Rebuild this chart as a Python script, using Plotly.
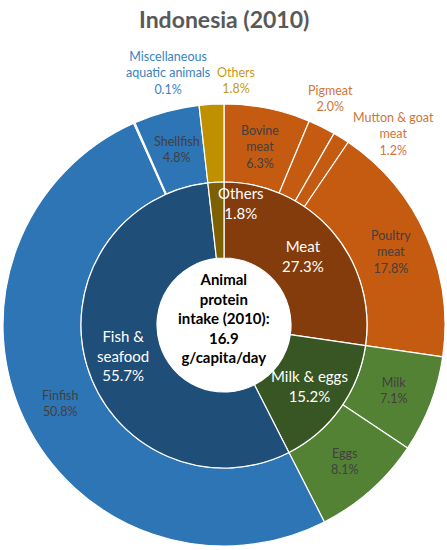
import math
import plotly.graph_objects as go

# inner ring: food groups, % of animal protein intake
groups = ["Meat", "Milk & eggs", "Fish & seafood", "Others"]
group_share = [27.3, 15.2, 55.7, 1.8]
group_text = ["Meat", "Milk & eggs", "Fish &<br>seafood", "Others"]

# outer ring: items within each group
items = ["Bovine meat", "Pigmeat", "Mutton & goat meat", "Poultry meat", "Milk",
         "Eggs", "Finfish", "Miscellaneous aquatic animals", "Shellfish", "Others"]
item_share = [6.3, 2.0, 1.2, 17.8, 7.1, 8.1, 50.8, 0.1, 4.8, 1.8]
item_text = ["Bovine<br>meat", "Pigmeat", "Mutton & goat<br>meat", "Poultry<br>meat", "Milk",
             "Eggs", "Finfish", "Miscellaneous<br>aquatic animals", "Shellfish", "Others"]

total_intake = 16.9  # g/capita/day

W, H = 447, 550
CX, CY = 224, 325          # pie centre (px)
R_OUT, R_MID, R_HOLE = 221, 143, 67

GROUP_COLORS = ["#843C0C", "#375623", "#1F4E79", "#7F6000"]
ITEM_COLORS = ["#C55A11"] * 4 + ["#548235"] * 2 + ["#2E75B6"] * 3 + ["#BF9000"]
OUT_LABEL_COLORS = {"Pigmeat": "#D0753A", "Mutton & goat meat": "#D0753A",
                    "Miscellaneous aquatic animals": "#3A82C4", "Others": "#C49A1A"}
# labels Excel pushed outside the ring (pixel positions)
OUT_LABEL_POS = {"Pigmeat": (330, 98), "Mutton & goat meat": (393, 134),
                 "Miscellaneous aquatic animals": (168, 73), "Others": (236, 81)}
FONT = "Lato, 'Open Sans', sans-serif"


def dom(cx, cy, r):
    return dict(x=[(cx - r) / W, (cx + r) / W], y=[1 - (cy + r) / H, 1 - (cy - r) / H])


def mids(shares):
    out, acc = [], 0.0
    tot = sum(shares)
    for s in shares:
        out.append((acc + s / 2) / tot)
        acc += s
    return out


def polar(frac, r):
    a = 2 * math.pi * frac
    return (CX + r * math.sin(a)) / W, 1 - (CY - r * math.cos(a)) / H


fig = go.Figure()
fig.add_trace(go.Pie(labels=items, values=item_share, sort=False, direction="clockwise",
                     rotation=0, hole=R_MID / R_OUT, domain=dom(CX, CY, R_OUT),
                     marker=dict(colors=ITEM_COLORS, line=dict(color="white", width=1.2)),
                     textinfo="none", showlegend=False))
fig.add_trace(go.Pie(labels=groups, values=group_share, sort=False, direction="clockwise",
                     rotation=0, hole=R_HOLE / R_MID, domain=dom(CX, CY, R_MID),
                     marker=dict(colors=GROUP_COLORS, line=dict(color="white", width=1.2)),
                     textinfo="none", showlegend=False))

ann = []
for name, txt, v, m in zip(items, item_text, item_share, mids(item_share)):
    label = f"{txt}<br>{v:.1f}%"
    if name in OUT_LABEL_POS:
        px, py = OUT_LABEL_POS[name]
        ann.append(dict(x=px / W, y=1 - py / H, text=label,
                        font=dict(size=12.5, color=OUT_LABEL_COLORS[name], family=FONT)))
    else:
        x, y = polar(m, (R_OUT + R_MID) / 2)
        ann.append(dict(x=x, y=y, text=label, font=dict(size=12.5, color="#404040", family=FONT)))

for name, txt, v, m in zip(groups, group_text, group_share, mids(group_share)):
    label = f"{txt}<br>{v:.1f}%"
    if name == "Others":
        x, y = 241 / W, 1 - 203 / H
    else:
        x, y = polar(m, (R_MID + R_HOLE) / 2)
    ann.append(dict(x=x, y=y, text=label, font=dict(size=15, color="white", family=FONT)))

ann.append(dict(x=CX / W, y=1 - 318 / H,
                text=f"<b>Animal<br>protein<br>intake (2010):<br>{total_intake}<br>g/capita/day</b>",
                font=dict(size=15, color="black", family=FONT)))
ann.append(dict(x=CX / W, y=1 - 19 / H, text="<b>Indonesia (2010)</b>",
                font=dict(size=23, color="#595959", family=FONT)))

for a in ann:
    a.update(xref="paper", yref="paper", xanchor="center", yanchor="middle", showarrow=False)

fig.update_layout(width=W, height=H, margin=dict(l=0, r=0, t=0, b=0),
                  paper_bgcolor="white", annotations=ann, font=dict(family=FONT))
# drop the browser's default 8px body margin so the figure sits at the page origin
fig.write_html("out.html", config={"displayModeBar": False},
               post_script="document.body.style.margin='0';")
